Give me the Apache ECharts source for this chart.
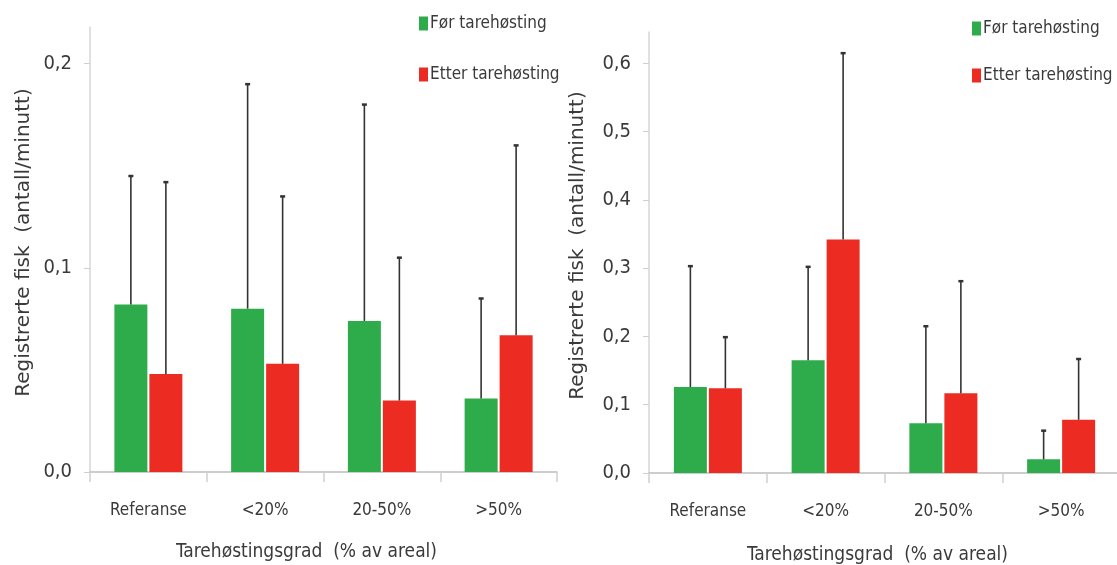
<!DOCTYPE html>
<html>
<head>
<meta charset="utf-8">
<script src="https://cdn.jsdelivr.net/npm/echarts@6/dist/echarts.min.js"></script>
<style>
html,body{margin:0;padding:0;background:#fff;}
#c{width:1117px;height:565px;}
</style>
</head>
<body>
<div id="c"></div>
<script>
// ---- data ----
const categories = ['Referanse', '<20%', '20-50%', '>50%'];
const seriesNames = ['Før tarehøsting', 'Etter tarehøsting'];

const leftBefore     = [0.082, 0.080, 0.074, 0.036];
const leftBeforeErr  = [0.145, 0.190, 0.180, 0.085];
const leftAfter      = [0.048, 0.053, 0.035, 0.067];
const leftAfterErr   = [0.142, 0.135, 0.105, 0.160];

const rightBefore    = [0.126, 0.165, 0.073, 0.020];
const rightBeforeErr = [0.303, 0.302, 0.215, 0.062];
const rightAfter     = [0.124, 0.342, 0.117, 0.078];
const rightAfterErr  = [0.199, 0.615, 0.281, 0.167];

const yTicksLeft  = [0, 0.1, 0.2];
const yTicksRight = [0, 0.1, 0.2, 0.3, 0.4, 0.5, 0.6];

const yTitle = 'Registrerte fisk  (antall/minutt)';
const xTitle = 'Tarehøstingsgrad  (% av areal)';

// ---- style ----
const GREEN = '#2eab4a';
const RED = '#ec2b23';
const BAR_W = 33;
const BAR_GAP = 2;
const NARROW = '"Liberation Sans Narrow","DejaVu Sans Condensed",sans-serif';
const TXT = '#3a3a3a';

const fmt = v => v.toFixed(1).replace('.', ',');

function errSeries(name, xi, means, uppers, sign) {
  return {
    type: 'custom', name: name + ' err', xAxisIndex: xi, yAxisIndex: xi, z: 5, silent: true,
    data: means.map((m, i) => [i, m, uppers[i]]),
    encode: {x: 0, y: [1, 2]},
    renderItem: function (params, api) {
      const p0 = api.coord([api.value(0), api.value(1)]);
      const p1 = api.coord([api.value(0), api.value(2)]);
      const x = p0[0] + sign * (BAR_W + BAR_GAP) / 2;
      return {
        type: 'group',
        children: [
          {type: 'line', shape: {x1: x, y1: p0[1], x2: x, y2: p1[1]}, style: {stroke: '#333', lineWidth: 1.6}},
          {type: 'line', shape: {x1: x - 2.5, y1: p1[1], x2: x + 2.5, y2: p1[1]}, style: {stroke: '#333', lineWidth: 2.5}}
        ]
      };
    }
  };
}

function xAxisCfg(gi, padRight, gap) {
  return {
    type: 'category', gridIndex: gi, data: categories,
    axisLine: {lineStyle: {color: '#bdbdbd', width: 1.5}},
    axisTick: {show: true, length: 10, lineStyle: {color: '#cfcfcf', width: 1.5}},
    axisLabel: {fontFamily: NARROW, fontSize: 17, color: TXT, margin: 30},
    name: xTitle, nameLocation: 'middle', nameGap: gap,
    nameTextStyle: {fontFamily: NARROW, fontSize: 19, color: TXT, padding: [0, padRight, 0, 0]}
  };
}

function yAxisCfg(gi, max, ticks, gap) {
  return {
    type: 'value', gridIndex: gi, min: 0, max: max, interval: 0.1,
    splitLine: {show: false},
    axisLine: {show: true, lineStyle: {color: '#d6d6d6', width: 1.5}},
    axisTick: {show: true, length: 6, customValues: ticks, lineStyle: {color: '#d0d0d0'}},
    axisLabel: {customValues: ticks, formatter: fmt, fontFamily: NARROW, fontSize: 20, color: TXT, margin: 18},
    name: yTitle, nameLocation: 'middle', nameRotate: 90, nameGap: gap,
    nameTextStyle: {fontFamily: '"DejaVu Sans",sans-serif', fontSize: 20, color: TXT, padding: [0, 0, 0, 14]}
  };
}

function legendCfg(left, top, gap) {
  return {
    data: seriesNames, orient: 'vertical', left: left, top: top,
    itemWidth: 9, itemHeight: 14, itemGap: gap,
    icon: 'rect',
    textStyle: {fontFamily: NARROW, fontSize: 17, color: TXT, padding: [0, 0, 0, -3]}
  };
}

const chart = echarts.init(document.getElementById('c'), null, {renderer: 'canvas'});
chart.setOption({
  backgroundColor: '#fff',
  animation: false,
  color: [GREEN, RED],
  legend: [legendCfg(414, 10, 34), legendCfg(967, 15, 30)],
  grid: [
    {left: 90, top: 27, width: 467, height: 445, containLabel: false, outerBoundsMode: 'none'},
    {left: 649, top: 32, width: 471, height: 441, containLabel: false, outerBoundsMode: 'none'}
  ],
  xAxis: [xAxisCfg(0, 34, 71), xAxisCfg(1, 14, 73)],
  yAxis: [yAxisCfg(0, 0.218, yTicksLeft, 56), yAxisCfg(1, 0.646, yTicksRight, 61)],
  series: [
    {type: 'bar', name: seriesNames[0], xAxisIndex: 0, yAxisIndex: 0, data: leftBefore, barWidth: BAR_W, barGap: (BAR_GAP / BAR_W * 100) + '%', itemStyle: {color: GREEN}},
    {type: 'bar', name: seriesNames[1], xAxisIndex: 0, yAxisIndex: 0, data: leftAfter, barWidth: BAR_W, barGap: (BAR_GAP / BAR_W * 100) + '%', itemStyle: {color: RED}},
    {type: 'bar', name: seriesNames[0], xAxisIndex: 1, yAxisIndex: 1, data: rightBefore, barWidth: BAR_W, barGap: (BAR_GAP / BAR_W * 100) + '%', itemStyle: {color: GREEN}},
    {type: 'bar', name: seriesNames[1], xAxisIndex: 1, yAxisIndex: 1, data: rightAfter, barWidth: BAR_W, barGap: (BAR_GAP / BAR_W * 100) + '%', itemStyle: {color: RED}},
    errSeries('lb', 0, leftBefore, leftBeforeErr, -1),
    errSeries('la', 0, leftAfter, leftAfterErr, 1),
    errSeries('rb', 1, rightBefore, rightBeforeErr, -1),
    errSeries('ra', 1, rightAfter, rightAfterErr, 1)
  ]
});
</script>
</body>
</html>
